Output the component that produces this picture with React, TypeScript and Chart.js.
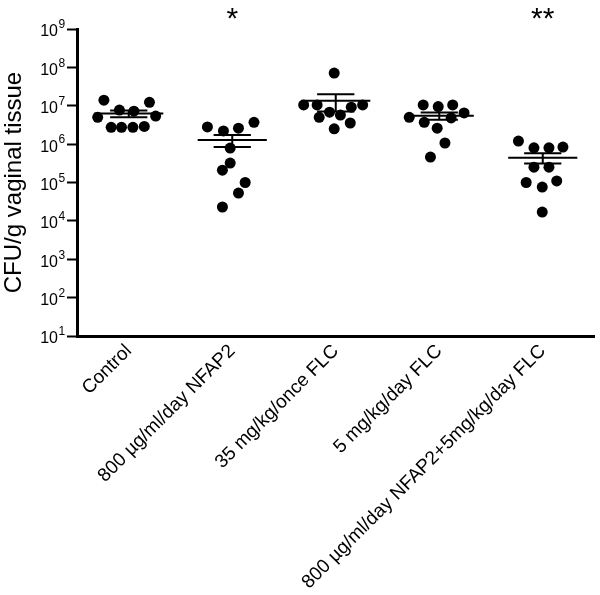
import React, { useEffect, useRef } from "react";
import { Chart, registerables } from "chart.js";

Chart.register(...registerables);

const categories = [
  "Control",
  "800 µg/ml/day NFAP2",
  "35 mg/kg/once FLC",
  "5 mg/kg/day FLC",
  "800 µg/ml/day NFAP2+5mg/kg/day FLC",
];

// CFU/g values per group
const controlValues = [1.4e7, 1.23e7, 5.0e6, 7.7e6, 7.2e6, 5.4e6, 2.75e6, 2.75e6, 2.75e6, 2.9e6];
const nfap2Values = [2.8e6, 2.2e6, 2.6e6, 3.7e6, 7.9e5, 3.2e5, 2.1e5, 1.0e5, 5.3e4, 2.3e4];
const flcOnceValues = [7.1e7, 1.05e7, 1.05e7, 9.2e6, 1.05e7, 6.8e6, 5.0e6, 5.7e6, 3.55e6, 2.5e6];
const flcDailyValues = [1.05e7, 9.5e6, 1.05e7, 5.0e6, 6.5e6, 3.7e6, 4.8e6, 2.6e6, 1.07e6, 4.6e5];
const comboValues = [1.2e6, 8.0e5, 8.0e5, 8.4e5, 2.5e5, 2.5e5, 1.0e5, 7.6e4, 1.1e5, 1.7e4];

// horizontal scatter offsets of each dot within its column (category units)
const controlSpread = [-0.24, 0.2, -0.3, -0.09, 0.05, 0.26, -0.17, -0.07, 0.04, 0.15];
const nfap2Spread = [-0.24, -0.085, 0.06, 0.21, -0.02, -0.02, -0.095, 0.125, 0.06, -0.095];
const flcOnceSpread = [-0.015, -0.31, -0.18, 0.15, 0.26, -0.06, -0.16, 0.045, 0.14, -0.015];
const flcDailySpread = [-0.155, -0.01, 0.13, -0.29, 0.24, -0.145, 0.115, -0.02, 0.055, -0.085];
const comboSpread = [-0.235, -0.085, 0.06, 0.195, -0.085, 0.06, -0.16, -0.005, 0.135, -0.005];

const groupValues = [controlValues, nfap2Values, flcOnceValues, flcDailyValues, comboValues];
const groupSpread = [controlSpread, nfap2Spread, flcOnceSpread, flcDailySpread, comboSpread];

const significance = ["", "*", "", "", "**"];
const yExponents = [1, 2, 3, 4, 5, 6, 7, 8, 9];
const yTitle = "CFU/g vaginal tissue";

const FONT = "'Liberation Sans', Arial, Helvetica, sans-serif";

function meanSem(vals: number[]) {
  const n = vals.length;
  const m = vals.reduce((a, b) => a + b, 0) / n;
  const v = vals.reduce((a, b) => a + (b - m) * (b - m), 0) / (n - 1);
  return { mean: m, sem: Math.sqrt(v) / Math.sqrt(n) };
}

const overlayPlugin = {
  id: "overlay",
  afterDatasetsDraw(chart: any) {
    const { ctx } = chart;
    const xs = chart.scales.x;
    const ys = chart.scales.y;
    ctx.save();
    ctx.strokeStyle = "#000";
    ctx.lineWidth = 2;
    groupValues.forEach((vals, i) => {
      const { mean, sem } = meanSem(vals);
      const ym = ys.getPixelForValue(mean);
      const yu = ys.getPixelForValue(mean + sem);
      const yl = ys.getPixelForValue(mean - sem);
      const xl = xs.getPixelForValue(i - 0.334);
      const xr = xs.getPixelForValue(i + 0.334);
      const cl = xs.getPixelForValue(i - 0.18);
      const cr = xs.getPixelForValue(i + 0.18);
      const xc = xs.getPixelForValue(i);
      ctx.beginPath();
      ctx.moveTo(xl, ym);
      ctx.lineTo(xr, ym);
      ctx.moveTo(cl, yu);
      ctx.lineTo(cr, yu);
      ctx.moveTo(cl, yl);
      ctx.lineTo(cr, yl);
      ctx.moveTo(xc, yu);
      ctx.lineTo(xc, yl);
      ctx.stroke();
    });
    ctx.restore();
  },
  afterDraw(chart: any) {
    const { ctx } = chart;
    const xs = chart.scales.x;
    const ys = chart.scales.y;
    ctx.save();
    ctx.fillStyle = "#000";
    // y tick labels 10^n
    yExponents.forEach((e) => {
      const y = ys.getPixelForValue(Math.pow(10, e));
      ctx.font = `16px ${FONT}`;
      ctx.textAlign = "right";
      ctx.textBaseline = "middle";
      ctx.fillText("10", 58, y + 3);
      ctx.font = `12px ${FONT}`;
      ctx.textAlign = "left";
      ctx.fillText(String(e), 58.5, y - 4);
    });
    // significance stars
    ctx.font = `30px ${FONT}`;
    ctx.textAlign = "center";
    ctx.textBaseline = "top";
    significance.forEach((s, i) => {
      if (!s) return;
      ctx.fillText(s, xs.getPixelForValue(i), 5);
    });
    ctx.restore();
  },
};

export default function App() {
  const ref = useRef<HTMLCanvasElement | null>(null);
  useEffect(() => {
    document.body.style.margin = "0";
    const canvas = ref.current;
    if (!canvas) return;
    const datasets = groupValues.map((vals, i) => ({
      label: categories[i],
      data: vals.map((v, k) => ({ x: i + groupSpread[i][k], y: v })),
      backgroundColor: "#000",
      borderColor: "#000",
      pointRadius: 5.5,
      pointBorderWidth: 0,
      showLine: false,
    }));
    const chart = new Chart(canvas, {
      type: "scatter",
      data: { datasets },
      options: {
        animation: false,
        responsive: false,
        maintainAspectRatio: false,
        layout: { padding: { top: 29, right: 0, left: 0, bottom: 0 } },
        plugins: { legend: { display: false }, tooltip: { enabled: false } },
        scales: {
          x: {
            type: "linear",
            min: -0.5,
            max: 4.5,
            afterBuildTicks: (s: any) => {
              s.ticks = categories.map((_, i) => ({ value: i }));
            },
            afterFit: (s: any) => {
              s.height = 259;
            },
            ticks: {
              autoSkip: false,
              minRotation: 45,
              maxRotation: 45,
              color: "#000",
              padding: 4,
              font: { family: FONT, size: 19 },
              callback: (v: any) => categories[v] ?? "",
            },
            grid: { display: false, drawTicks: false },
            border: { display: true, color: "#000", width: 3 },
          },
          y: {
            type: "logarithmic",
            min: 10,
            max: 1e9,
            afterBuildTicks: (s: any) => {
              s.ticks = yExponents.map((e) => ({ value: Math.pow(10, e) }));
            },
            afterFit: (s: any) => {
              s.width = 77;
            },
            ticks: { display: false },
            grid: {
              drawOnChartArea: false,
              drawTicks: true,
              tickLength: 10,
              tickWidth: 2,
              tickColor: "#000",
            },
            border: { display: true, color: "#000", width: 3 },
            title: {
              display: true,
              text: yTitle,
              color: "#000",
              padding: 0,
              font: { family: FONT, size: 24 },
            },
          },
        },
      },
      plugins: [overlayPlugin],
    });
    return () => chart.destroy();
  }, []);
  return (
    <canvas ref={ref} width={600} height={595} style={{ display: "block" }} />
  );
}
